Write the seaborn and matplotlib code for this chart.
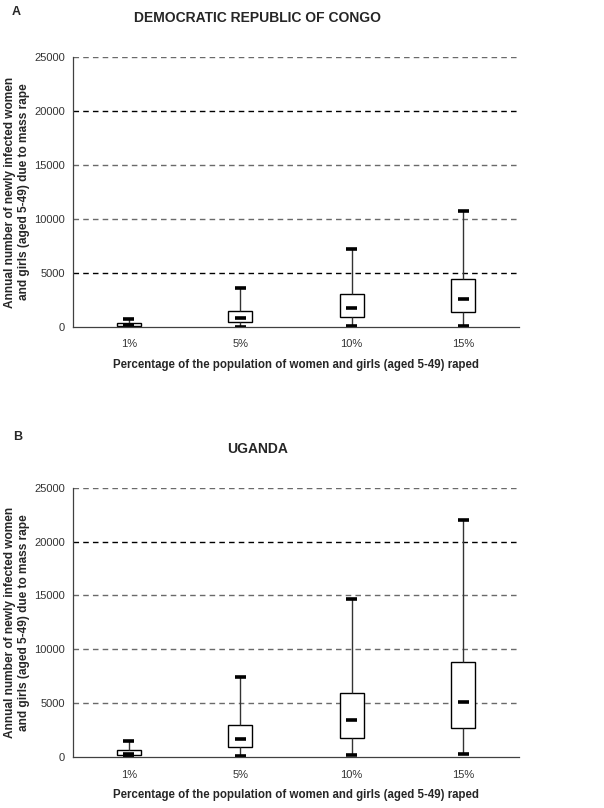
import pandas as pd
import matplotlib
matplotlib.use("Agg")
import matplotlib.pyplot as plt
import seaborn as sns

# Categories (x axis)
pct = ["1%", "5%", "10%", "15%"]

# Democratic Republic of Congo: whisker low, Q1, median, Q3, whisker high
drc_low = [50, 30, 90, 90]
drc_q1 = [60, 460, 900, 1420]
drc_med = [150, 860, 1790, 2590]
drc_q3 = [370, 1510, 3020, 4480]
drc_high = [770, 3610, 7190, 10740]

# Uganda
uga_low = [30, 120, 190, 280]
uga_q1 = [150, 960, 1790, 2660]
uga_med = [250, 1700, 3470, 5140]
uga_q3 = [620, 2940, 5940, 8850]
uga_high = [1520, 7400, 14630, 22000]

y_ticks = [0, 5000, 10000, 15000, 20000, 25000]


def to_long(low, q1, med, q3, high):
    # five points per category reproduce exactly the box statistics
    rows = []
    for i, c in enumerate(pct):
        for v in (low[i], q1[i], med[i], q3[i], high[i]):
            rows.append({"pct": c, "value": v})
    return pd.DataFrame(rows)


df_drc = to_long(drc_low, drc_q1, drc_med, drc_q3, drc_high)
df_uga = to_long(uga_low, uga_q1, uga_med, uga_q3, uga_high)

sns.set_style("white")
plt.rcParams["font.family"] = ["Liberation Sans", "DejaVu Sans"]

fig = plt.figure(figsize=(6.04, 8.08), dpi=100)
ax_a = fig.add_axes([0.121, 0.5953, 0.738, 0.3342])
ax_b = fig.add_axes([0.121, 0.0631, 0.738, 0.3333])

ylabel = "Annual number of newly infected women\nand girls (aged 5-49) due to mass rape"
xlabel = "Percentage of the population of women and girls (aged 5-49) raped"


def draw(ax, df, dark_levels):
    for v in y_ticks[1:]:
        ax.axhline(v, color="black" if v in dark_levels else "#6a6a6a",
                   ls=(0, (4, 3)), lw=1, zorder=0)
    sns.boxplot(data=df, x="pct", y="value", order=pct, ax=ax,
                whis=(0, 100), width=0.215, color="white", linecolor="black",
                linewidth=1, showfliers=False,
                medianprops={"gid": "median", "linewidth": 2.6,
                             "solid_capstyle": "butt"},
                capprops={"gid": "cap", "linewidth": 2.6,
                          "solid_capstyle": "butt"},
                whiskerprops={"linewidth": 1, "color": "#333333"})
    # short thick medians and caps, as in the original figure
    for ln in ax.lines:
        if ln.get_gid() in ("median", "cap"):
            xd = ln.get_xdata()
            c = (xd[0] + xd[-1]) / 2
            ln.set_xdata([c - 0.05, c + 0.05])
    ax.set_xlim(-0.5, 3.5)
    ax.set_ylim(0, 25000)
    ax.set_yticks(y_ticks)
    ax.set_yticklabels([str(v) for v in y_ticks], fontsize=8, color="#333333")
    ax.set_xticks(range(len(pct)))
    ax.set_xticklabels(pct, fontsize=8, color="#333333")
    ax.set_xticks([-0.5, 0.5, 1.5, 2.5, 3.5], minor=True)
    ax.tick_params(axis="x", which="major", length=0, pad=9)
    ax.tick_params(axis="x", which="minor", length=5, width=0.8,
                   color="#404040", direction="out")
    ax.tick_params(axis="y", length=4, width=0.8, color="#404040",
                   direction="out", pad=2)
    for s in ("top", "right"):
        ax.spines[s].set_visible(False)
    for s in ("left", "bottom"):
        ax.spines[s].set_color("#404040")
        ax.spines[s].set_linewidth(0.9)
    ax.set_xlabel(xlabel, fontsize=8.3, fontweight="bold", labelpad=7)
    ax.set_ylabel(ylabel, fontsize=8.6, fontweight="bold", linespacing=1.15)
    ax.yaxis.set_label_coords(-0.097, 0.5)


draw(ax_a, df_drc, [5000, 20000])
draw(ax_b, df_uga, [20000])

fig.text(0.02, 0.985, "A", fontsize=9, fontweight="bold", va="center")
fig.text(0.427, 0.978, "DEMOCRATIC REPUBLIC OF CONGO", fontsize=10,
         fontweight="bold", ha="center", va="center")
fig.text(0.022, 0.459, "B", fontsize=9, fontweight="bold", va="center")
fig.text(0.427, 0.444, "UGANDA", fontsize=10, fontweight="bold",
         ha="center", va="center")

fig.savefig("out.png", dpi=100)
